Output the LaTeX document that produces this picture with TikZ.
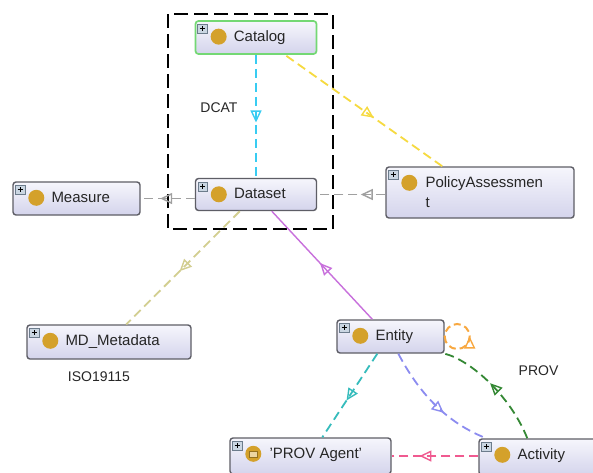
\documentclass[tikz,border=0pt]{standalone}
\usepackage{fontspec}
\setmainfont{Liberation Sans}
\usetikzlibrary{arrows.meta,decorations.markings,calc}
\definecolor{boxedge}{HTML}{5E5E66}
\definecolor{boxtop}{HTML}{F6F6FC}
\definecolor{boxbot}{HTML}{D4D4EC}
\definecolor{goldc}{HTML}{D4A12B}
\definecolor{catedge}{HTML}{74D874}
\definecolor{cyanc}{HTML}{38CCF2}
\definecolor{yellowc}{HTML}{F6DA40}
\definecolor{greyc}{HTML}{A0A0A0}
\definecolor{khakic}{HTML}{D2CE90}
\definecolor{purplec}{HTML}{C870DC}
\definecolor{orangec}{HTML}{F8A840}
\definecolor{tealc}{HTML}{36BCBC}
\definecolor{lavc}{HTML}{8C8CF0}
\definecolor{greenc}{HTML}{348834}
\definecolor{pinkc}{HTML}{F05A90}
\definecolor{plusfill}{HTML}{CAD6E2}
\definecolor{plusedge}{HTML}{6C7C8C}
\tikzset{
  cls/.style={draw=boxedge, line width=1.4pt, rounded corners=3pt,
    top color=boxtop, bottom color=boxbot, inner sep=0pt},
  lbl/.style={font=\fontsize{15}{20}\selectfont, text=black!85, inner sep=0pt, anchor=base west},
  note/.style={font=\fontsize{14}{16}\selectfont, text=black!85, inner sep=0pt},
  dsh/.style={line width=1.8pt, dash pattern=on 9pt off 5pt},
  midtip/.style={postaction={decorate}, decoration={markings,
    mark=at position #1 with {\arrow[solid, line width=1.4pt]{Triangle[open, length=12pt, width=11pt]}}}}
}
\newcommand{\clsicons}[1]{%
  \draw[fill=plusfill, draw=plusedge, line width=0.6pt] ($(#1.north west)+(3,4)$) rectangle +(9.5,9);
  \draw[line width=1pt] ($(#1.north west)+(5.2,8.5)$) -- +(5,0);
  \draw[line width=1pt] ($(#1.north west)+(7.75,6)$) -- +(0,5);
  \fill[goldc] ($(#1.north west)+(24,16.5)$) circle (8);
}
\begin{document}
\begin{tikzpicture}[x=1pt,y=-1pt]
\useasboundingbox (0,0) rectangle (593,472);
\fill[white] (0,0) rectangle (593,472);

% group box
\draw[line width=2.8pt, dash pattern=on 14pt off 6pt] (168,14) rectangle (333,229);

% class boxes
\node[cls, draw=catedge, line width=1.7pt, minimum width=121, minimum height=33] (cat) at (256,37.5) {};
\node[cls, minimum width=121, minimum height=32] (ds) at (256,194.5) {};
\node[cls, minimum width=127, minimum height=33] (meas) at (76.5,198.5) {};
\node[cls, minimum width=188, minimum height=51] (pol) at (480,192.5) {};
\node[cls, minimum width=164, minimum height=34] (md) at (109,342) {};
\node[cls, minimum width=107, minimum height=33] (ent) at (390.5,336.5) {};
\node[cls, minimum width=161, minimum height=36] (ag) at (310.5,456) {};
\node[cls, minimum width=125, minimum height=36] (act) at (541.5,457) {};

\foreach \n in {cat,ds,meas,pol,md,ent,ag,act} {\clsicons{\n}}
\fill[goldc!45!white] ($(ag.north west)+(20,13.5)$) rectangle +(8,6);
\draw[goldc!70!black, line width=0.3pt] ($(ag.north west)+(20,13.5)$) rectangle +(8,6);

\node[lbl] (catT) at ($(cat.north west)+(39,21)$) {Catalog};
\node[lbl] (dsT) at ($(ds.north west)+(39,21)$) {Dataset};
\node[lbl] (measT) at ($(meas.north west)+(39,21)$) {Measure};
\node[lbl, align=left, anchor=north west] (polT) at ($(pol.north west)+(40,10.5)$) {PolicyAssessmen\\t};
\node[lbl] (mdT) at ($(md.north west)+(39,21)$) {MD\_Metadata};
\node[lbl] (entT) at ($(ent.north west)+(39,21)$) {Entity};
\node[lbl] (agT) at ($(ag.north west)+(40,21)$) {'PROV Agent'};
\node[lbl] (actT) at ($(act.north west)+(39,21)$) {Activity};

% labels
\node[note] (dcat) at (219,107.5) {DCAT};
\node[note] (iso) at (99,377) {ISO19115};
\node[note] (prov) at (538.5,371) {PROV};

% connectors
\draw[cyanc, dsh, midtip=0.55] (cat.south) -- (ds.north);
\draw[yellowc, dsh, midtip=0.56] ($(cat.south east)+(-31,1)$) -- ($(pol.north west)+(57,0)$);
\draw[greyc, dsh, midtip=0.64] (ds.west |- meas.east) -- (meas.east);
\draw[greyc, dsh, midtip=0.36] (pol.west |- ds.east) -- (ds.east);
\draw[khakic, dsh, midtip=0.53] ($(ds.south west)+(45,0)$) -- ($(md.north west)+(100,0)$);
\draw[purplec, line width=1.4pt, midtip=0.52] ($(ent.north west)+(36,0)$) -- ($(ds.south west)+(77,0)$);
\draw[orangec, line width=2pt, dash pattern=on 7pt off 4pt, midtip=0.5] (ent.east) arc[start angle=180, end angle=-180, radius=12.5];
\draw[tealc, dsh, midtip=0.56] ($(ent.south west)+(41,0)$) -- ($(ag.north west)+(93,0)$);
\draw[lavc, dsh, midtip=0.6] ($(ent.south west)+(62,0)$) .. controls (415,385) and (440,420) .. ($(act.north west)+(8,0)$);
\draw[greenc, dsh, midtip=0.55] ($(act.north west)+(49,0)$) .. controls (510,395) and (470,360) .. (ent.south east);
\draw[pinkc, dsh, midtip=0.68] (act.west |- ag.east) -- (ag.east);
\end{tikzpicture}
\end{document}
